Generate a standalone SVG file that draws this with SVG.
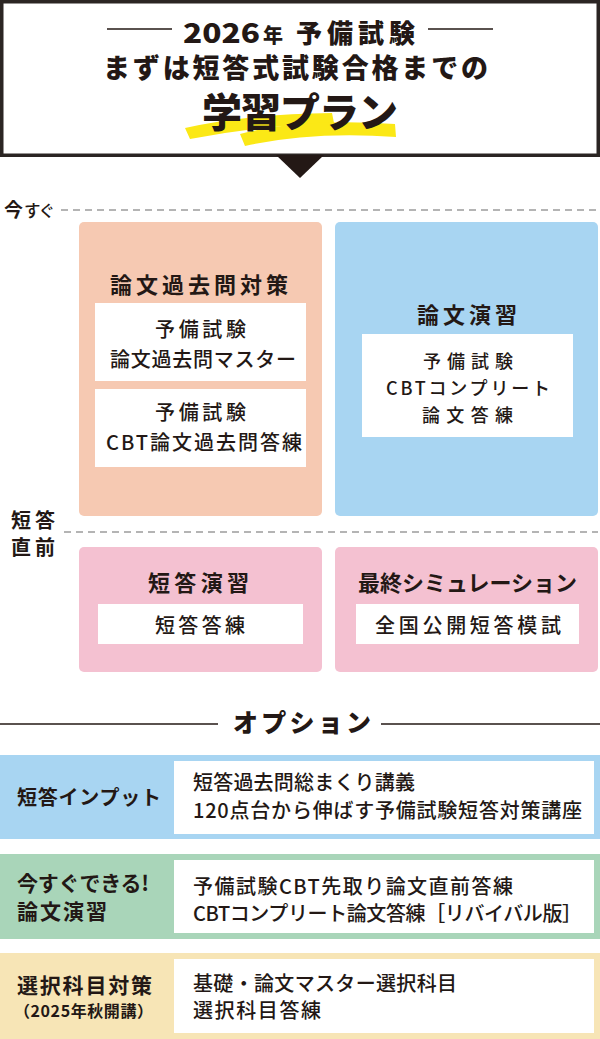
<svg xmlns="http://www.w3.org/2000/svg" width="600" height="1039" viewBox="0 0 600 1039">
<style>
text{font-family:"Noto Sans CJK JP","Noto Sans CJK SC",sans-serif;fill:#231815;}
.b{font-weight:700;}
.h{font-weight:900;}
.m{font-weight:500;}
.t22{font-size:22px;font-weight:700;}
.t19{font-size:20px;font-weight:500;}
.dash{stroke:#6b6b6b;stroke-width:1.2;stroke-dasharray:7 5;fill:none;}
.rule{stroke:#231815;stroke-width:1.6;fill:none;}
.wb{fill:#ffffff;}
.peach{fill:#f6c9b2;}
.blue{fill:#a8d5f2;}
.pink{fill:#f4c1d1;}
.green{fill:#a9d5b9;}
.beige{fill:#f7e5b6;}
</style>

<g id="header">
  <rect x="1.75" y="1.75" width="596.5" height="153.5" fill="#ffffff" stroke="#2b2523" stroke-width="3.5"/>
  <line class="rule" x1="107" y1="29" x2="172" y2="29"/>
  <line class="rule" x1="428" y1="29" x2="493" y2="29"/>
  <text y="42.5" class="h"><tspan x="183" font-size="27" textLength="77" lengthAdjust="spacingAndGlyphs">2026</tspan><tspan x="263" font-size="20" textLength="22">年</tspan><tspan x="296" font-size="26" textLength="119">予備試験</tspan></text>
  <text x="103" y="78" class="h" font-size="27" textLength="385">まずは短答式試験合格までの</text>
  <path d="M185,128 Q250,114 332,113 L334,123 Q262,125 190,139 Z" fill="#fbe816"/>
  <path d="M240,134 Q300,118 395,124 L396,137 Q312,131 245,146 Z" fill="#fbe816"/>
  <text x="202" y="127" class="h" font-size="40" textLength="196">学習プラン</text>
</g>

<g id="connectors">
  <path d="M276,155 L324,155 L300,178 Z" fill="#231815"/>
</g>

<g id="timeline">
  <text y="216.5"><tspan x="4" font-size="19" class="b">今</tspan><tspan x="24" font-size="16.5" class="m" textLength="31">すぐ</tspan></text>
  <line class="dash" x1="61" y1="210" x2="598" y2="210"/>
  <text x="11" y="528" class="b" font-size="20" textLength="44">短答</text>
  <text x="11" y="555" class="b" font-size="20" textLength="44">直前</text>
  <line class="dash" x1="64" y1="532" x2="598" y2="532"/>
</g>

<g id="node-ronbun-kakomon">
  <rect class="peach" x="79" y="222" width="243" height="294" rx="5"/>
  <text x="110" y="293" class="t22" textLength="178">論文過去問対策</text>
  <rect class="wb" x="95" y="303" width="211" height="78"/>
  <text x="155" y="337" class="t19" textLength="91">予備試験</text>
  <text x="110" y="367" class="t19" textLength="186">論文過去問マスター</text>
  <rect class="wb" x="95" y="389" width="211" height="78"/>
  <text x="155" y="420" class="t19" textLength="91">予備試験</text>
  <text x="106" y="450" class="t19" textLength="196">CBT論文過去問答練</text>
</g>

<g id="node-ronbun-enshu">
  <rect class="blue" x="335" y="222" width="263" height="294" rx="5"/>
  <text x="417" y="323" class="t22" textLength="100">論文演習</text>
  <rect class="wb" x="362" y="334" width="211" height="103"/>
  <text class="m" font-size="18"><tspan x="423" y="368" textLength="90">予備試験</tspan><tspan x="386" y="395" textLength="164">CBTコンプリート</tspan><tspan x="422" y="422" textLength="91">論文答練</tspan></text>
</g>

<g id="node-tanto-enshu">
  <rect class="pink" x="79" y="547" width="243" height="125" rx="5"/>
  <text x="148" y="591" class="t22" textLength="101">短答演習</text>
  <rect class="wb" x="98" y="604" width="205" height="40"/>
  <text x="155" y="633" class="t19" textLength="90">短答答練</text>
</g>

<g id="node-saishu">
  <rect class="pink" x="335" y="547" width="263" height="125" rx="5"/>
  <text x="358" y="591" class="t22" textLength="219">最終シミュレーション</text>
  <rect class="wb" x="356" y="604" width="223" height="40"/>
  <text x="375" y="633" class="t19" textLength="186">全国公開短答模試</text>
</g>

<g id="options-heading">
  <line class="rule" x1="0" y1="724" x2="218" y2="724"/>
  <line class="rule" x1="381" y1="724" x2="600" y2="724"/>
  <text x="233" y="732" class="h" font-size="25" textLength="138">オプション</text>
</g>

<g id="option-tanto-input">
  <rect class="blue" x="0" y="755" width="600" height="84"/>
  <rect class="wb" x="174" y="761" width="420" height="73"/>
  <text x="17" y="805" class="b" font-size="20" textLength="144">短答インプット</text>
  <text x="193" y="790" class="t19" textLength="222">短答過去問総まくり講義</text>
  <text x="193" y="818" class="t19" textLength="389">120点台から伸ばす予備試験短答対策講座</text>
</g>

<g id="option-ronbun-enshu">
  <rect class="green" x="0" y="854" width="600" height="85"/>
  <rect class="wb" x="174" y="860" width="420" height="73"/>
  <text x="17" y="891" class="b" font-size="21" textLength="132">今すぐできる!</text>
  <text x="17" y="919" class="b" font-size="21" textLength="90">論文演習</text>
  <text x="193" y="894" class="t19" textLength="320">予備試験CBT先取り論文直前答練</text>
  <text x="193" y="921" class="t19" textLength="389">CBTコンプリート論文答練［リバイバル版］</text>
</g>

<g id="option-sentaku">
  <rect class="beige" x="0" y="953" width="600" height="86"/>
  <rect class="wb" x="174" y="959" width="420" height="74"/>
  <text x="17" y="993" class="b" font-size="21" textLength="135">選択科目対策</text>
  <text x="14" y="1017" class="b" font-size="16" textLength="139">（2025年秋開講）</text>
  <text x="193" y="991" class="t19" textLength="264">基礎・論文マスター選択科目</text>
  <text x="193" y="1018" class="t19" textLength="128">選択科目答練</text>
</g>
</svg>
